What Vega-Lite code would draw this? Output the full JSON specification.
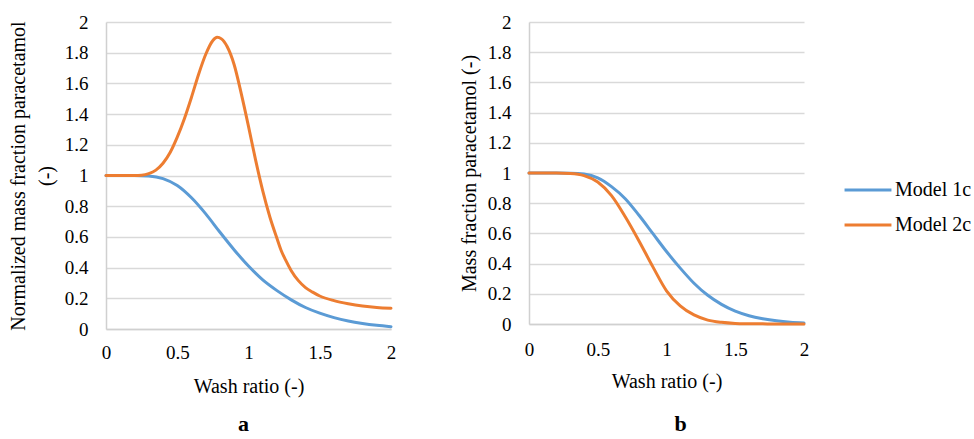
{
  "$schema": "https://vega.github.io/schema/vega-lite/v6.json",
  "padding": {"left": 8, "top": 13, "right": 0, "bottom": 0},
  "config": {
    "font": "Liberation Serif",
    "view": {"stroke": null},
    "axis": {
      "labelFont": "Liberation Serif",
      "titleFont": "Liberation Serif",
      "labelFontSize": 19,
      "titleFontSize": 20,
      "labelColor": "#000000",
      "titleColor": "#000000",
      "titleFontWeight": "normal",
      "ticks": false,
      "gridColor": "#D9D9D9",
      "gridWidth": 1.5,
      "domainColor": "#D0D0D0",
      "domainWidth": 1.5
    },
    "legend": {
      "labelFont": "Liberation Serif",
      "labelFontSize": 20,
      "labelColor": "#000000"
    },
    "title": {"font": "Liberation Serif"}
  },
  "data": {
    "values": [
      {"panel": "a", "model": "Model 1c", "w": 0, "f": 1},
      {"panel": "a", "model": "Model 1c", "w": 0.1, "f": 1},
      {"panel": "a", "model": "Model 1c", "w": 0.2, "f": 1},
      {"panel": "a", "model": "Model 1c", "w": 0.3, "f": 0.997},
      {"panel": "a", "model": "Model 1c", "w": 0.4, "f": 0.98},
      {"panel": "a", "model": "Model 1c", "w": 0.5, "f": 0.935},
      {"panel": "a", "model": "Model 1c", "w": 0.6, "f": 0.855},
      {"panel": "a", "model": "Model 1c", "w": 0.7, "f": 0.75},
      {"panel": "a", "model": "Model 1c", "w": 0.8, "f": 0.63},
      {"panel": "a", "model": "Model 1c", "w": 0.9, "f": 0.515},
      {"panel": "a", "model": "Model 1c", "w": 1.0, "f": 0.41},
      {"panel": "a", "model": "Model 1c", "w": 1.1, "f": 0.32},
      {"panel": "a", "model": "Model 1c", "w": 1.2, "f": 0.25},
      {"panel": "a", "model": "Model 1c", "w": 1.3, "f": 0.19},
      {"panel": "a", "model": "Model 1c", "w": 1.4, "f": 0.14},
      {"panel": "a", "model": "Model 1c", "w": 1.5, "f": 0.103},
      {"panel": "a", "model": "Model 1c", "w": 1.6, "f": 0.074},
      {"panel": "a", "model": "Model 1c", "w": 1.7, "f": 0.052},
      {"panel": "a", "model": "Model 1c", "w": 1.8, "f": 0.036},
      {"panel": "a", "model": "Model 1c", "w": 1.9, "f": 0.024},
      {"panel": "a", "model": "Model 1c", "w": 2.0, "f": 0.015},
      {"panel": "a", "model": "Model 2c", "w": 0, "f": 1},
      {"panel": "a", "model": "Model 2c", "w": 0.1, "f": 1},
      {"panel": "a", "model": "Model 2c", "w": 0.2, "f": 1},
      {"panel": "a", "model": "Model 2c", "w": 0.25, "f": 1.002},
      {"panel": "a", "model": "Model 2c", "w": 0.3, "f": 1.012},
      {"panel": "a", "model": "Model 2c", "w": 0.35, "f": 1.035},
      {"panel": "a", "model": "Model 2c", "w": 0.4, "f": 1.08},
      {"panel": "a", "model": "Model 2c", "w": 0.45, "f": 1.15},
      {"panel": "a", "model": "Model 2c", "w": 0.5, "f": 1.25},
      {"panel": "a", "model": "Model 2c", "w": 0.55, "f": 1.37},
      {"panel": "a", "model": "Model 2c", "w": 0.6, "f": 1.51},
      {"panel": "a", "model": "Model 2c", "w": 0.65, "f": 1.66},
      {"panel": "a", "model": "Model 2c", "w": 0.7, "f": 1.79},
      {"panel": "a", "model": "Model 2c", "w": 0.75, "f": 1.88},
      {"panel": "a", "model": "Model 2c", "w": 0.78, "f": 1.9},
      {"panel": "a", "model": "Model 2c", "w": 0.81, "f": 1.89},
      {"panel": "a", "model": "Model 2c", "w": 0.85, "f": 1.84},
      {"panel": "a", "model": "Model 2c", "w": 0.9, "f": 1.72},
      {"panel": "a", "model": "Model 2c", "w": 0.95, "f": 1.53},
      {"panel": "a", "model": "Model 2c", "w": 1.0, "f": 1.32},
      {"panel": "a", "model": "Model 2c", "w": 1.05, "f": 1.1},
      {"panel": "a", "model": "Model 2c", "w": 1.1, "f": 0.9},
      {"panel": "a", "model": "Model 2c", "w": 1.15, "f": 0.73},
      {"panel": "a", "model": "Model 2c", "w": 1.2, "f": 0.59},
      {"panel": "a", "model": "Model 2c", "w": 1.23, "f": 0.51},
      {"panel": "a", "model": "Model 2c", "w": 1.26, "f": 0.45},
      {"panel": "a", "model": "Model 2c", "w": 1.3, "f": 0.38},
      {"panel": "a", "model": "Model 2c", "w": 1.35, "f": 0.315},
      {"panel": "a", "model": "Model 2c", "w": 1.4, "f": 0.27},
      {"panel": "a", "model": "Model 2c", "w": 1.45, "f": 0.24},
      {"panel": "a", "model": "Model 2c", "w": 1.5, "f": 0.215},
      {"panel": "a", "model": "Model 2c", "w": 1.6, "f": 0.185},
      {"panel": "a", "model": "Model 2c", "w": 1.7, "f": 0.165},
      {"panel": "a", "model": "Model 2c", "w": 1.8, "f": 0.15},
      {"panel": "a", "model": "Model 2c", "w": 1.9, "f": 0.14},
      {"panel": "a", "model": "Model 2c", "w": 2.0, "f": 0.135},
      {"panel": "b", "model": "Model 1c", "w": 0, "f": 1},
      {"panel": "b", "model": "Model 1c", "w": 0.1, "f": 1},
      {"panel": "b", "model": "Model 1c", "w": 0.2, "f": 1},
      {"panel": "b", "model": "Model 1c", "w": 0.3, "f": 0.999},
      {"panel": "b", "model": "Model 1c", "w": 0.4, "f": 0.993},
      {"panel": "b", "model": "Model 1c", "w": 0.5, "f": 0.968},
      {"panel": "b", "model": "Model 1c", "w": 0.6, "f": 0.91},
      {"panel": "b", "model": "Model 1c", "w": 0.7, "f": 0.83},
      {"panel": "b", "model": "Model 1c", "w": 0.8, "f": 0.72},
      {"panel": "b", "model": "Model 1c", "w": 0.9, "f": 0.6},
      {"panel": "b", "model": "Model 1c", "w": 1.0, "f": 0.48},
      {"panel": "b", "model": "Model 1c", "w": 1.1, "f": 0.37},
      {"panel": "b", "model": "Model 1c", "w": 1.2, "f": 0.27},
      {"panel": "b", "model": "Model 1c", "w": 1.3, "f": 0.19},
      {"panel": "b", "model": "Model 1c", "w": 1.4, "f": 0.13},
      {"panel": "b", "model": "Model 1c", "w": 1.5, "f": 0.085},
      {"panel": "b", "model": "Model 1c", "w": 1.6, "f": 0.055},
      {"panel": "b", "model": "Model 1c", "w": 1.7, "f": 0.035},
      {"panel": "b", "model": "Model 1c", "w": 1.8, "f": 0.021},
      {"panel": "b", "model": "Model 1c", "w": 1.9, "f": 0.012},
      {"panel": "b", "model": "Model 1c", "w": 2.0, "f": 0.007},
      {"panel": "b", "model": "Model 2c", "w": 0, "f": 1},
      {"panel": "b", "model": "Model 2c", "w": 0.1, "f": 1},
      {"panel": "b", "model": "Model 2c", "w": 0.2, "f": 1},
      {"panel": "b", "model": "Model 2c", "w": 0.3, "f": 0.997},
      {"panel": "b", "model": "Model 2c", "w": 0.4, "f": 0.983},
      {"panel": "b", "model": "Model 2c", "w": 0.5, "f": 0.94},
      {"panel": "b", "model": "Model 2c", "w": 0.6, "f": 0.85},
      {"panel": "b", "model": "Model 2c", "w": 0.7, "f": 0.71},
      {"panel": "b", "model": "Model 2c", "w": 0.8, "f": 0.55},
      {"panel": "b", "model": "Model 2c", "w": 0.9, "f": 0.38},
      {"panel": "b", "model": "Model 2c", "w": 1.0, "f": 0.22},
      {"panel": "b", "model": "Model 2c", "w": 1.1, "f": 0.12},
      {"panel": "b", "model": "Model 2c", "w": 1.2, "f": 0.06},
      {"panel": "b", "model": "Model 2c", "w": 1.3, "f": 0.026},
      {"panel": "b", "model": "Model 2c", "w": 1.4, "f": 0.011},
      {"panel": "b", "model": "Model 2c", "w": 1.5, "f": 0.004},
      {"panel": "b", "model": "Model 2c", "w": 1.6, "f": 0.002},
      {"panel": "b", "model": "Model 2c", "w": 1.7, "f": 0.001},
      {"panel": "b", "model": "Model 2c", "w": 1.8, "f": 0},
      {"panel": "b", "model": "Model 2c", "w": 1.9, "f": 0},
      {"panel": "b", "model": "Model 2c", "w": 2.0, "f": 0}
    ]
  },
  "spacing": 62,
  "hconcat": [
    {
      "width": 285,
      "height": 307,
      "title": {"text": "a", "orient": "bottom", "fontSize": 22, "fontWeight": "bold", "offset": 18, "dx": -5},
      "transform": [{"filter": "datum.panel === 'a'"}],
      "mark": {"type": "line", "strokeWidth": 3, "interpolate": "monotone", "strokeCap": "round"},
      "encoding": {
        "x": {"field": "w", "type": "quantitative", "scale": {"domain": [0, 2], "nice": false},
          "axis": {"title": "Wash ratio (-)", "values": [0, 0.5, 1, 1.5, 2], "labelExpr": "datum.value", "grid": false, "labelPadding": 14, "titlePadding": 14, "labelFlush": false}},
        "y": {"field": "f", "type": "quantitative", "scale": {"domain": [0, 2], "nice": false},
          "axis": {"title": ["Normalized mass fraction paracetamol", "(-)"], "values": [0, 0.2, 0.4, 0.6, 0.8, 1, 1.2, 1.4, 1.6, 1.8, 2], "labelExpr": "datum.value", "labelPadding": 18, "titlePadding": 8, "titleLineHeight": 28}},
        "color": {"field": "model", "type": "nominal", "scale": {"domain": ["Model 1c", "Model 2c"], "range": ["#5B9BD5", "#ED7D31"]},
          "legend": {"title": null, "orient": "none", "legendX": 737, "legendY": 143, "symbolType": "stroke", "symbolSize": 2200, "symbolStrokeWidth": 3, "rowPadding": -9, "labelOffset": 2, "padding": 0}}
      }
    },
    {
      "width": 275,
      "height": 302,
      "title": {"text": "b", "orient": "bottom", "fontSize": 22, "fontWeight": "bold", "offset": 23, "dx": 14},
      "transform": [{"filter": "datum.panel === 'b'"}],
      "mark": {"type": "line", "strokeWidth": 3, "interpolate": "monotone", "strokeCap": "round"},
      "encoding": {
        "x": {"field": "w", "type": "quantitative", "scale": {"domain": [0, 2], "nice": false},
          "axis": {"title": "Wash ratio (-)", "values": [0, 0.5, 1, 1.5, 2], "labelExpr": "datum.value", "grid": false, "labelPadding": 16, "titlePadding": 12, "labelFlush": false}},
        "y": {"field": "f", "type": "quantitative", "scale": {"domain": [0, 2], "nice": false},
          "axis": {"title": "Mass fraction paracetamol (-)", "values": [0, 0.2, 0.4, 0.6, 0.8, 1, 1.2, 1.4, 1.6, 1.8, 2], "labelExpr": "datum.value", "labelPadding": 18, "titlePadding": 8}},
        "color": {"field": "model", "type": "nominal"}
      }
    }
  ]
}
